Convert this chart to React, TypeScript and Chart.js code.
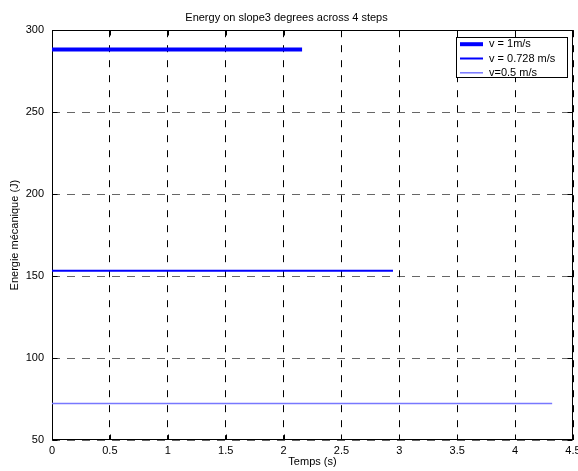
import React, { useEffect, useRef } from "react";
import { Chart, registerables } from "chart.js";

Chart.register(...registerables);

// Energy traces for each walking speed (time in s, energy in J)
const seriesLabels = ["v = 1m/s", "v = 0.728 m/s", "v=0.5 m/s"];
const timeFast = [0, 0.54, 1.08, 1.62, 2.16];
const energyFast = [288.3, 288.3, 288.3, 288.3, 288.3];
const timeMid = [0, 0.74, 1.47, 2.21, 2.945];
const energyMid = [153.2, 153.2, 153.2, 153.2, 153.2];
const timeSlow = [0, 1.08, 2.16, 3.24, 4.32];
const energySlow = [72.2, 72.2, 72.2, 72.2, 72.2];

const xTicks = [0, 0.5, 1, 1.5, 2, 2.5, 3, 3.5, 4, 4.5];
const yTicks = [50, 100, 150, 200, 250, 300];

const toPoints = (xs: number[], ys: number[]) => xs.map((x, i) => ({ x, y: ys[i] }));

const FONT = "'Liberation Sans', Arial, Helvetica, sans-serif";

// Axes box with inward tick marks on all four sides
const boxPlugin = {
  id: "axesBox",
  beforeDatasetsDraw(chart: any) {
    const { ctx, chartArea: a, scales } = chart;
    const L = Math.round(a.left) + 0.5;
    const R = Math.round(a.right) - 0.5;
    const T = Math.round(a.top) + 0.5;
    const B = Math.round(a.bottom) - 0.5;
    ctx.save();
    ctx.strokeStyle = "#000";
    ctx.lineWidth = 1;
    ctx.setLineDash([]);
    ctx.beginPath();
    const tl = 5;
    xTicks.forEach((v) => {
      const px = Math.round(scales.x.getPixelForValue(v)) + 0.5;
      ctx.moveTo(px, B);
      ctx.lineTo(px, B - tl);
      ctx.moveTo(px, T);
      ctx.lineTo(px, T + tl);
    });
    yTicks.forEach((v) => {
      const py = Math.round(scales.y.getPixelForValue(v)) + 0.5;
      ctx.moveTo(L, py);
      ctx.lineTo(L + tl, py);
      ctx.moveTo(R, py);
      ctx.lineTo(R - tl, py);
    });
    ctx.stroke();
    ctx.strokeRect(L, T, R - L, B - T);
    ctx.restore();
  },
};

// Boxed legend in the upper right corner of the axes
const legendBoxPlugin = {
  id: "legendBox",
  afterDraw(chart: any) {
    const { ctx, chartArea: a } = chart;
    const right = a.right - 6;
    const w = 111;
    const left = right - w;
    const top = a.top + 7;
    const rowH = 14.3;
    const h = 40;
    ctx.save();
    ctx.fillStyle = "#fff";
    ctx.fillRect(left, top, w, h);
    ctx.strokeStyle = "#000";
    ctx.lineWidth = 1;
    ctx.setLineDash([]);
    ctx.strokeRect(Math.round(left) + 0.5, Math.round(top) + 0.5, w, h);
    ctx.font = `11px ${FONT}`;
    ctx.textBaseline = "middle";
    ctx.textAlign = "left";
    chart.data.datasets.forEach((ds: any, i: number) => {
      const y = top + 7 + i * rowH;
      ctx.strokeStyle = ds.borderColor;
      ctx.lineWidth = ds.borderWidth;
      ctx.beginPath();
      ctx.moveTo(left + 4, y);
      ctx.lineTo(left + 27, y);
      ctx.stroke();
      ctx.fillStyle = "#000";
      ctx.fillText(ds.label, left + 33, y);
    });
    ctx.restore();
  },
};

export default function App() {
  const canvasRef = useRef<HTMLCanvasElement | null>(null);

  useEffect(() => {
    if (!canvasRef.current) return;
    Chart.defaults.font.family = FONT;
    Chart.defaults.font.size = 11;
    Chart.defaults.color = "#000";

    const chart = new Chart(canvasRef.current, {
      type: "line",
      data: {
        datasets: [
          {
            label: seriesLabels[0],
            data: toPoints(timeFast, energyFast),
            borderColor: "#0000ff",
            borderWidth: 4,
            pointRadius: 0,
            fill: false,
          },
          {
            label: seriesLabels[1],
            data: toPoints(timeMid, energyMid),
            borderColor: "#0000ff",
            borderWidth: 2,
            pointRadius: 0,
            fill: false,
          },
          {
            label: seriesLabels[2],
            data: toPoints(timeSlow, energySlow),
            borderColor: "#7878ff",
            borderWidth: 1.5,
            pointRadius: 0,
            fill: false,
          },
        ],
      },
      options: {
        responsive: false,
        animation: false,
        events: [],
        layout: { padding: { left: 0, right: 5, top: 0, bottom: 0 } },
        plugins: {
          legend: { display: false },
          tooltip: { enabled: false },
          title: {
            display: true,
            text: "Energy on slope3 degrees across 4 steps",
            font: { size: 11, weight: "normal", family: FONT },
            color: "#000",
            padding: { top: 11, bottom: 6 },
          },
        },
        scales: {
          x: {
            type: "linear",
            min: 0,
            max: 4.5,
            afterBuildTicks: (s: any) => {
              s.ticks = xTicks.map((v) => ({ value: v }));
            },
            afterFit: (s: any) => {
              s.height = 31;
              s.paddingLeft = 0;
              s.paddingRight = 0;
            },
            ticks: {
              padding: 4,
              color: "#000",
              font: { size: 11 },
              maxRotation: 0,
              autoSkip: false,
              callback: (v: any) => String(v),
            },
            grid: { color: "#000", lineWidth: 1, drawTicks: false },
            border: { display: false, dash: [7, 8] },
            title: {
              display: true,
              text: "Temps (s)",
              color: "#000",
              font: { size: 11 },
              padding: { top: 0, bottom: 2 },
            },
          },
          y: {
            type: "linear",
            min: 50,
            max: 300,
            afterBuildTicks: (s: any) => {
              s.ticks = yTicks.map((v) => ({ value: v }));
            },
            afterFit: (s: any) => {
              s.width = 52;
              s.paddingTop = 0;
              s.paddingBottom = 0;
            },
            ticks: { padding: 8, color: "#000", font: { size: 11 } },
            grid: { color: "rgba(0,0,0,0.6)", lineWidth: 1, drawTicks: false },
            border: { display: false, dash: [8, 7] },
            title: {
              display: true,
              text: "Energie mécanique (J)",
              color: "#000",
              font: { size: 11 },
              padding: { top: 8, bottom: 0 },
            },
          },
        },
      } as any,
      plugins: [boxPlugin, legendBoxPlugin],
    });
    return () => chart.destroy();
  }, []);

  return (
    <div style={{ position: "absolute", left: 0, top: 0, width: 578, height: 471, background: "#fff" }}>
      <canvas ref={canvasRef} width={578} height={471} style={{ display: "block" }} />
    </div>
  );
}
